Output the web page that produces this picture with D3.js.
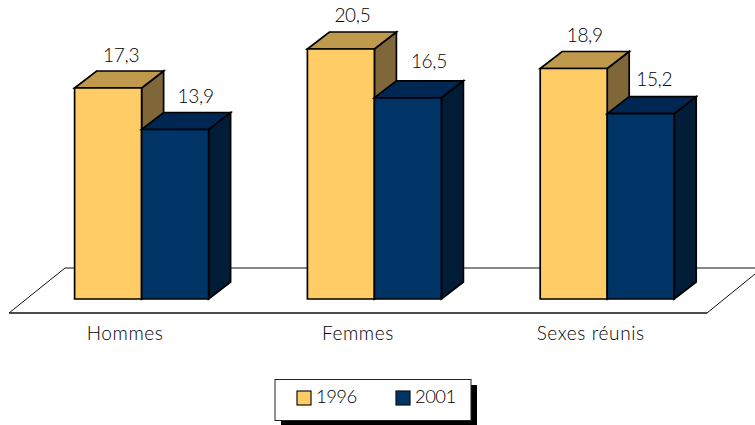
<!DOCTYPE html>
<html><head><meta charset="utf-8">
<script src="https://cdn.jsdelivr.net/npm/d3@7"></script>
<style>html,body{margin:0;padding:0;background:#fff}svg{display:block}text{font-family:Lato,sans-serif;font-weight:300;fill:#000}</style>
</head><body><svg id="c" width="755" height="425"></svg>
<script>
const categories=["Hommes","Femmes","Sexes réunis"];
const seriesNames=["1996","2001"];
const values1996=[17.3,20.5,18.9];
const values2001=[13.9,16.5,15.2];
const labels1996=["17,3","20,5","18,9"];
const labels2001=["13,9","16,5","15,2"];
const colors={"1996":{front:"#FFCC66",top:"#BF9A4D",side:"#80673A"},"2001":{front:"#003366",top:"#002652",side:"#001C36"}};

const svg=d3.select("#c");
const x0=d3.scaleBand().domain(categories).range([25.2,723.6]);
const x1=d3.scaleBand().domain(seriesNames).range([x0.bandwidth()/2-67,x0.bandwidth()/2+67]);
const y=d3.scaleLinear().domain([0,20.5]).range([299,49]);
const dx=22,dy=-17;

// floor
const floor=svg.append("g").attr("fill","none").attr("stroke","#111");
floor.append("path").attr("d",d3.line()([[65,268],[755,268]])).attr("stroke-width",1);
floor.append("path").attr("d",d3.line()([[65,268],[9,313]])).attr("stroke-width",1);
floor.append("path").attr("d",d3.line()([[9,313],[707,313]])).attr("stroke-width",1.4);
floor.append("path").attr("d",d3.line()([[707,313],[755,274]])).attr("stroke-width",1);

const rows=[];
categories.forEach((c,i)=>{rows.push({c,s:"1996",i,v:values1996[i],l:labels1996[i]});rows.push({c,s:"2001",i,v:values2001[i],l:labels2001[i]});});

const bars=svg.append("g").selectAll("g").data(rows).join("g")
  .attr("stroke","#000").attr("stroke-width",1.7).attr("stroke-linejoin","miter");
const poly=(pts)=>d3.line()(pts)+"Z";
bars.each(function(d){
  const g=d3.select(this);
  const l=x0(d.c)+x1(d.s), r=l+x1.bandwidth(), t=y(d.v), b=y(0), col=colors[d.s];
  g.append("path").attr("fill",col.side).attr("d",poly([[r,t],[r+dx,t+dy],[r+dx,b+dy],[r,b]]));
  g.append("path").attr("fill",col.top).attr("d",poly([[l,t],[l+dx,t+dy],[r+dx,t+dy],[r,t]]));
  g.append("path").attr("fill",col.front).attr("d",poly([[l,t],[r,t],[r,b],[l,b]]));
});

// manual label placement, as in the source chart
const nudgeX={"1996":[2,0.5,0],"2001":[9.5,10,2.5]};
const nudgeY={"1996":[1,0,0.5],"2001":[1,-3,-0.5]};
svg.append("g").selectAll("text").data(rows).join("text")
  .attr("x",d=>x0(d.c)+x1(d.s)+x1.bandwidth()/2+dx/2+nudgeX[d.s][d.i])
  .attr("y",d=>y(d.v)+dy-10+nudgeY[d.s][d.i])
  .attr("text-anchor","middle").attr("font-size",19).attr("letter-spacing",-0.3).text(d=>d.l);

svg.append("g").selectAll("text").data(categories).join("text")
  .attr("x",d=>x0(d)+x0.bandwidth()/2-16.5)
  .attr("y",340).attr("text-anchor","middle").attr("font-size",19).attr("letter-spacing",0.6).text(d=>d);

// legend
const lg=svg.append("g");
lg.append("rect").attr("x",281).attr("y",385).attr("width",196).attr("height",40).attr("fill","#000");
lg.append("rect").attr("x",275).attr("y",379.5).attr("width",196).attr("height",41).attr("fill","#fff").attr("stroke","#222").attr("stroke-width",1);
const lx=d3.scaleOrdinal().domain(seriesNames).range([297,396]);
lg.selectAll(".sw").data(seriesNames).join("rect").attr("class","sw")
  .attr("x",d=>lx(d)).attr("y",391).attr("width",14).attr("height",14)
  .attr("fill",d=>colors[d].front).attr("stroke","#111").attr("stroke-width",1.2);
lg.selectAll(".lt").data(seriesNames).join("text").attr("class","lt")
  .attr("x",d=>lx(d)+19).attr("y",402.5).attr("font-size",18.5).attr("letter-spacing",-0.6).text(d=>d);
</script></body></html>
